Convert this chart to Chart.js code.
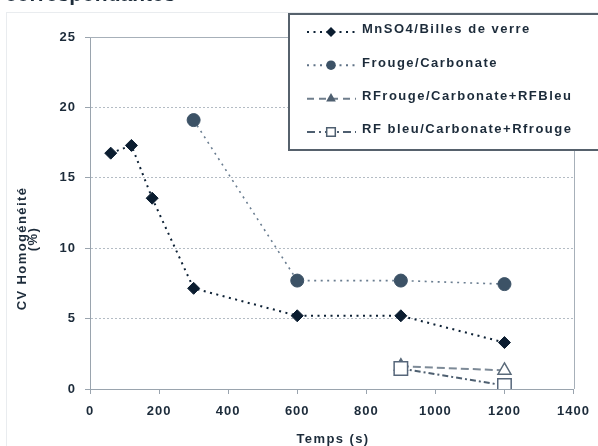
<!DOCTYPE html>
<html><head><meta charset="utf-8">
<script src="https://cdn.jsdelivr.net/npm/chart.js@4/dist/chart.umd.min.js"></script>
<style>html,body{margin:0;padding:0;background:#fff;overflow:hidden}#wrap{width:598px;height:446px;position:relative}</style>
</head><body><div id="wrap"><canvas id="c" width="598" height="446"></canvas></div>
<script>
const seriesLabels = ['MnSO4/Billes de verre', 'Frouge/Carbonate', 'RFrouge/Carbonate+RFBleu', 'RF bleu/Carbonate+Rfrouge'];
const mnso4Times = [60, 120, 180, 300, 600, 900, 1200];
const mnso4Values = [16.75, 17.3, 13.55, 7.15, 5.2, 5.2, 3.3];
const frougeTimes = [300, 600, 900, 1200];
const frougeValues = [19.1, 7.7, 7.7, 7.45];
const rfrougeTimes = [900, 1200];
const rfrougeValues = [1.62, 1.32];
const rfbleuTimes = [900, 1200];
const rfbleuValues = [1.45, 0.25];
const xTicks = [0, 200, 400, 600, 800, 1000, 1200, 1400];
const yTicks = [0, 5, 10, 15, 20, 25];
const xTitle = 'Temps (s)';
const yTitleLines = ['CV Homogénéité', '(%)'];
const headerText = 'correspondantes';

const TXT = '#1c2b3a';
const AX = '#9aa4ae';
const FONT = '"Liberation Sans", Arial, sans-serif';

function pts(xs, ys) { return xs.map((x, i) => ({x: x, y: ys[i]})); }

function drawMarker(ctx, kind, x, y, r, fill, stroke, lw) {
  ctx.save();
  ctx.setLineDash([]);
  ctx.beginPath();
  if (kind === 'diamond') {
    ctx.moveTo(x - r, y); ctx.lineTo(x, y - r); ctx.lineTo(x + r, y); ctx.lineTo(x, y + r); ctx.closePath();
  } else if (kind === 'circle') {
    ctx.arc(x, y, r, 0, Math.PI * 2);
  } else if (kind === 'triangle') {
    for (let k = 0; k < 3; k++) {
      const a = k * 2 * Math.PI / 3;
      const px = x + Math.sin(a) * r, py = y - Math.cos(a) * r;
      if (k === 0) ctx.moveTo(px, py); else ctx.lineTo(px, py);
    }
    ctx.closePath();
  } else if (kind === 'square') {
    ctx.rect(x - r, y - r, 2 * r, 2 * r);
  }
  ctx.fillStyle = fill; ctx.fill();
  if (stroke) { ctx.lineWidth = lw; ctx.strokeStyle = stroke; ctx.stroke(); }
  ctx.restore();
}

const legendItems = [
  {dash: [2, 4.5], color: '#0d2135', lw: 2, marker: 'diamond', r: 5, fill: '#0b1d30', stroke: null},
  {dash: [2, 4.5], color: '#5f7286', lw: 2, marker: 'circle', r: 4.8, fill: '#3c5266', stroke: null},
  {dash: [7, 5], color: '#6f7e8c', lw: 2, marker: 'triangle', r: 5.6, fill: '#4e5f70', stroke: null},
  {dash: [8, 4, 2, 4], color: '#4e5f70', lw: 2, marker: 'square', r: 4.3, fill: '#ffffff', stroke: '#4e5f70'}
];

const decor = {
  id: 'decor',
  beforeDraw(chart) {
    const ctx = chart.ctx;
    ctx.letterSpacing = '1px';
    ctx.save();
    ctx.strokeStyle = '#e9ecef';
    ctx.lineWidth = 1;
    ctx.strokeRect(6.5, 12.5, 640, 500);
    ctx.restore();
  },
  beforeDatasetsDraw(chart) {
    const ctx = chart.ctx, a = chart.chartArea;
    ctx.save();
    ctx.setLineDash([]);
    ctx.strokeStyle = '#a7b0b9';
    ctx.lineWidth = 1;
    ctx.beginPath();
    ctx.moveTo(a.left, Math.round(a.top) + 0.5);
    ctx.lineTo(Math.round(a.right) + 0.5, Math.round(a.top) + 0.5);
    ctx.lineTo(Math.round(a.right) + 0.5, a.bottom);
    ctx.stroke();
    ctx.restore();
  },
  afterDraw(chart) {
    const ctx = chart.ctx;
    ctx.save();
    ctx.setLineDash([]);
    // clipped header text
    ctx.letterSpacing = '0px';
    ctx.fillStyle = TXT;
    ctx.font = 'bold 21px ' + FONT;
    ctx.textAlign = 'left'; ctx.textBaseline = 'alphabetic';
    ctx.fillText(headerText, 5, 1);
    // axis titles
    ctx.letterSpacing = '1.4px';
    ctx.font = 'bold 13px ' + FONT;
    ctx.textAlign = 'center';
    ctx.fillText(xTitle, 333, 443);
    ctx.save(); ctx.translate(26, 248.5); ctx.rotate(-Math.PI / 2); ctx.fillText(yTitleLines[0], 0, 0); ctx.restore();
    ctx.save(); ctx.translate(37, 239); ctx.rotate(-Math.PI / 2); ctx.fillText(yTitleLines[1], 0, 0); ctx.restore();
    // legend box
    ctx.fillStyle = '#ffffff';
    ctx.fillRect(288, 13, 330, 137);
    ctx.strokeStyle = '#56616c';
    ctx.lineWidth = 2;
    ctx.strokeRect(289, 14, 330, 136);
    const baselines = [33.3, 66.5, 100, 133.3];
    legendItems.forEach((it, i) => {
      const y = baselines[i] - 1.3;
      ctx.save();
      ctx.strokeStyle = it.color; ctx.lineWidth = it.lw; ctx.setLineDash(it.dash);
      ctx.beginPath(); ctx.moveTo(307, y); ctx.lineTo(356, y); ctx.stroke();
      ctx.restore();
      drawMarker(ctx, it.marker, 331, y, it.r, it.fill, it.stroke, 1.5);
      ctx.fillStyle = TXT;
      ctx.letterSpacing = '1.5px';
      ctx.font = 'bold 13px ' + FONT;
      ctx.textAlign = 'left'; ctx.textBaseline = 'alphabetic';
      ctx.fillText(seriesLabels[i], 362, baselines[i]);
    });
    ctx.restore();
  }
};

new Chart(document.getElementById('c'), {
  type: 'scatter',
  data: {
    datasets: [
      {label: seriesLabels[0], data: pts(mnso4Times, mnso4Values), showLine: true, order: 2,
       borderColor: '#0d2135', borderWidth: 2, borderDash: [2, 4.5],
       pointStyle: 'rectRot', pointRadius: 6, pointBackgroundColor: '#0b1d30', pointBorderColor: '#0b1d30', pointBorderWidth: 1},
      {label: seriesLabels[1], data: pts(frougeTimes, frougeValues), showLine: true, order: 3,
       borderColor: '#6a7d90', borderWidth: 1.6, borderDash: [2, 4.5],
       pointStyle: 'circle', pointRadius: 6.5, pointBackgroundColor: '#3c5266', pointBorderColor: '#3c5266', pointBorderWidth: 1},
      {label: seriesLabels[2], data: pts(rfrougeTimes, rfrougeValues), showLine: true, order: 1,
       borderColor: '#7d8a97', borderWidth: 2, borderDash: [8, 4],
       pointStyle: 'triangle', pointRadius: 7.5, pointBackgroundColor: ['#4e5f70', '#ffffff'], pointBorderColor: '#5a6a7a', pointBorderWidth: 1.5},
      {label: seriesLabels[3], data: pts(rfbleuTimes, rfbleuValues), showLine: true, order: 0,
       borderColor: '#4e5f70', borderWidth: 2, borderDash: [6, 3, 2, 3],
       pointStyle: 'rect', pointRadius: 9.5, pointBackgroundColor: '#ffffff', pointBorderColor: '#56667a', pointBorderWidth: 1.5}
    ]
  },
  options: {
    responsive: false, animation: false, devicePixelRatio: 1,
    layout: {padding: {top: 37, right: 17, left: 0, bottom: 0}},
    plugins: {legend: {display: false}, tooltip: {enabled: false}, title: {display: false}},
    scales: {
      x: {
        type: 'linear', min: 0, max: 1400,
        afterBuildTicks: s => { s.ticks = xTicks.map(v => ({value: v})); },
        afterFit: s => { s.height = 57; },
        ticks: {color: TXT, font: {family: FONT, size: 13, weight: 'bold'}, padding: 10, maxRotation: 0, autoSkip: false,
                callback: v => String(v)},
        grid: {drawOnChartArea: false, drawTicks: true, tickLength: 5, tickColor: AX, color: AX},
        border: {color: AX, width: 1}
      },
      y: {
        type: 'linear', min: 0, max: 25,
        afterBuildTicks: s => { s.ticks = yTicks.map(v => ({value: v})); },
        afterFit: s => { s.width = 90; },
        ticks: {color: TXT, font: {family: FONT, size: 13, weight: 'bold'}, padding: 9, autoSkip: false,
                callback: v => String(v)},
        grid: {color: '#b4bcc4', drawTicks: true, tickLength: 5, tickColor: AX, tickBorderDash: []},
        border: {color: AX, width: 1, dash: [2, 2]}
      }
    }
  },
  plugins: [decor]
});
</script></body></html>
